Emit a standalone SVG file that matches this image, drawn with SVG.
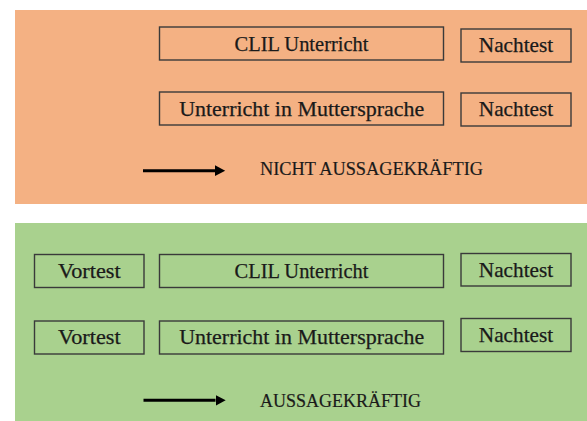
<svg xmlns="http://www.w3.org/2000/svg" width="587" height="421" viewBox="0 0 587 421">
  <style>
    .box { fill: none; stroke: #3a3a3a; stroke-width: 1.4; }
    .lbl { font-family: "Liberation Serif", "Times New Roman", serif; font-size: 21px; fill: #1a1a1a; stroke: #1a1a1a; stroke-width: 0.25; text-anchor: middle; }
    .note { font-family: "Liberation Serif", "Times New Roman", serif; font-size: 19.5px; fill: #1a1a1a; stroke: #1a1a1a; stroke-width: 0.2; }
    .arrow { stroke: #000; stroke-width: 3; fill: none; }
  </style>
  <defs>
    <marker id="head" markerWidth="4" markerHeight="4" refX="0" refY="2" orient="auto" markerUnits="strokeWidth">
      <path d="M0,0.2 L3.4,2 L0,3.8 Z" fill="#000"/>
    </marker>
  </defs>
  <rect width="587" height="421" fill="#ffffff"/>

  <!-- upper panel: no pre-test -->
  <g id="panel-without-pretest">
    <rect x="15" y="10" width="572" height="194" fill="#F4B183"/>
    <g id="n-clil-1">
      <rect class="box" x="159.5" y="27" width="284" height="33"/>
      <text class="lbl" x="301.5" y="50.7" textLength="134" lengthAdjust="spacingAndGlyphs">CLIL Unterricht</text>
    </g>
    <g id="n-post-1">
      <rect class="box" x="461" y="29" width="110" height="33"/>
      <text class="lbl" x="516" y="52.3" textLength="74.5" lengthAdjust="spacingAndGlyphs">Nachtest</text>
    </g>
    <g id="n-mother-1">
      <rect class="box" x="159.5" y="92" width="284" height="33"/>
      <text class="lbl" x="301.7" y="115.5" textLength="245" lengthAdjust="spacingAndGlyphs">Unterricht in Muttersprache</text>
    </g>
    <g id="n-post-2">
      <rect class="box" x="461" y="93" width="110" height="33"/>
      <text class="lbl" x="516" y="116" textLength="74.5" lengthAdjust="spacingAndGlyphs">Nachtest</text>
    </g>
    <text class="note" x="260" y="175" textLength="223" lengthAdjust="spacingAndGlyphs">NICHT AUSSAGEKRÄFTIG</text>
  </g>

  <!-- lower panel: with pre-test -->
  <g id="panel-with-pretest">
    <rect x="15" y="223" width="572" height="198" fill="#A9D18E"/>
    <g id="n-pre-3">
      <rect class="box" x="34.5" y="254.5" width="109.5" height="33"/>
      <text class="lbl" x="89.3" y="278.3" textLength="62.6" lengthAdjust="spacingAndGlyphs">Vortest</text>
    </g>
    <g id="n-clil-3">
      <rect class="box" x="159.5" y="254.5" width="284" height="33"/>
      <text class="lbl" x="301.5" y="278.3" textLength="134" lengthAdjust="spacingAndGlyphs">CLIL Unterricht</text>
    </g>
    <g id="n-post-3">
      <rect class="box" x="461" y="253.5" width="110" height="32.5"/>
      <text class="lbl" x="516" y="276.7" textLength="74.5" lengthAdjust="spacingAndGlyphs">Nachtest</text>
    </g>
    <g id="n-pre-4">
      <rect class="box" x="34.5" y="321" width="109.5" height="33"/>
      <text class="lbl" x="89.3" y="344.3" textLength="62.6" lengthAdjust="spacingAndGlyphs">Vortest</text>
    </g>
    <g id="n-mother-4">
      <rect class="box" x="159.5" y="321" width="284" height="33"/>
      <text class="lbl" x="301.7" y="344.3" textLength="245" lengthAdjust="spacingAndGlyphs">Unterricht in Muttersprache</text>
    </g>
    <g id="n-post-4">
      <rect class="box" x="461" y="318.5" width="110" height="33"/>
      <text class="lbl" x="516" y="341.7" textLength="74.5" lengthAdjust="spacingAndGlyphs">Nachtest</text>
    </g>
    <text class="note" x="260" y="406.7" textLength="161" lengthAdjust="spacingAndGlyphs">AUSSAGEKRÄFTIG</text>
  </g>

  <!-- connectors -->
  <g id="connectors">
    <line class="arrow" x1="143" y1="170.7" x2="215" y2="170.7" marker-end="url(#head)"/>
    <line class="arrow" x1="143.5" y1="400.3" x2="215.5" y2="400.3" marker-end="url(#head)"/>
  </g>
</svg>
